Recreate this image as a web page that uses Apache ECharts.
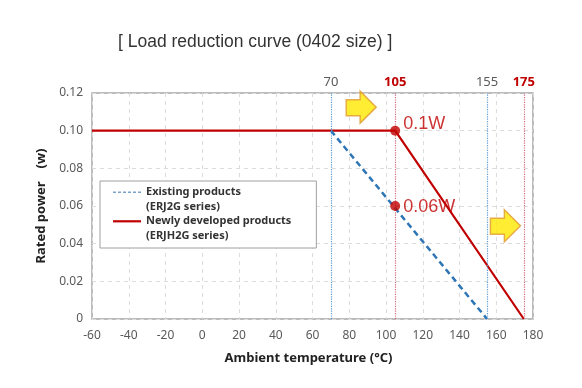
<!DOCTYPE html>
<html><head><meta charset="utf-8">
<script src="https://cdn.jsdelivr.net/npm/echarts@6/dist/echarts.min.js"></script>
<style>html,body{margin:0;padding:0;background:#fff}#c{width:582px;height:388px}</style>
</head><body><div id="c"></div>
<script>
// ---- data ----
const existingName = 'Existing products\n(ERJ2G series)';
const newName = 'Newly developed products\n(ERJH2G series)';
const existingLine = [[70, 0.10], [155, 0]];
const newLine = [[-60, 0.10], [105, 0.10], [175, 0]];
const keyPoints = [[105, 0.10, '0.1W'], [105, 0.06, '0.06W']];
const keyLabelShift = [-7, 1];
const refTemps = [70, 105, 155, 175];
const refIsNew = [false, true, false, true];
const arrows = [[86.5, 0.1125], [165, 0.0495]];

const RED = '#c00000';
const BLUE = '#2e75b6';
const arrowPath = 'path://M0,8 L13,8 L13,0 L28,15 L13,30 L13,23 L0,23 Z';
// legend icons: visible bar aligned with the first text line, invisible extent points keep box size
const iconDashed = 'path://M0,0M28,29' + [0, 5, 10, 15, 20, 25].map(x => `M${x},6.6h3v1.3h-3z`).join('');
const iconSolid = 'path://M0,0M28,29M0,6.2h28v2.2h-28z';

const chart = echarts.init(document.getElementById('c'));
chart.setOption({
  animation: false,
  title: {
    text: '[ Load reduction curve (0402 size) ]',
    left: 113, top: 28,
    textStyle: {fontFamily: 'Liberation Sans', fontSize: 17.5, fontWeight: 'normal', color: '#333'}
  },
  grid: {left: 92, right: 49, top: 93, bottom: 69, show: true, borderColor: '#a6a6a6', borderWidth: 1.5},
  legend: {
    data: [
      {name: existingName, icon: iconDashed, itemStyle: {color: '#7aa3cc'}},
      {name: newName, icon: iconSolid, itemStyle: {color: RED}}
    ],
    orient: 'vertical',
    left: 100, top: 181,
    padding: [4, 25, 5, 13],
    itemGap: 0,
    itemWidth: 28, itemHeight: 29,
    borderColor: '#a0a0a0', borderWidth: 1, backgroundColor: '#fff',
    itemStyle: {borderWidth: 0},
    textStyle: {fontFamily: 'Noto Sans', fontSize: 11, fontWeight: 'bold', color: '#333', lineHeight: 14.5}
  },
  xAxis: {
    type: 'value', min: -60, max: 180, interval: 20,
    name: 'Ambient temperature (°C)', nameLocation: 'middle', nameGap: 33,
    nameTextStyle: {fontFamily: 'Noto Sans', fontSize: 13, fontWeight: 'bold', color: '#222', padding: [0, 8, 0, 0]},
    axisLine: {show: false}, axisTick: {show: false},
    axisLabel: {fontFamily: 'Noto Sans', fontSize: 12, color: '#595959', margin: 11},
    splitLine: {show: true, lineStyle: {type: [4, 4], color: '#dcdcdc'}}
  },
  yAxis: {
    type: 'value', min: 0, max: 0.12, interval: 0.02,
    name: 'Rated power\u3000(w)', nameLocation: 'middle', nameGap: 42,
    nameTextStyle: {fontFamily: 'Noto Sans', fontSize: 13, fontWeight: 'bold', color: '#222'},
    axisLine: {show: false}, axisTick: {show: false},
    axisLabel: {fontFamily: 'Noto Sans', fontSize: 12, color: '#595959', margin: 9,
      formatter: v => v === 0 ? '0' : v.toFixed(2)},
    splitLine: {show: true, lineStyle: {type: [4, 4], color: '#dcdcdc'}}
  },
  series: [
    {
      name: 'refs', type: 'line', data: [], silent: true,
      markLine: {
        silent: true, symbol: 'none',
        data: refTemps.map((t, i) => ({
          xAxis: t,
          lineStyle: {type: 'dotted', width: 1.2, color: refIsNew[i] ? '#d46a7a' : '#5b9bd5'},
          label: {show: true, position: 'end', distance: 4, formatter: String(t),
            fontFamily: 'Noto Sans', fontSize: 13,
            fontWeight: refIsNew[i] ? 'bold' : 'normal',
            color: refIsNew[i] ? RED : '#595959'}
        }))
      }
    },
    {
      name: newName, type: 'line', data: newLine, symbol: 'none',
      lineStyle: {color: RED, width: 2.2}, itemStyle: {color: RED}, z: 3
    },
    {
      name: existingName, type: 'line', data: existingLine, symbol: 'none',
      lineStyle: {color: BLUE, width: 2.5, type: [6, 4]}, itemStyle: {color: BLUE}, z: 4
    },
    {
      name: 'points', type: 'scatter', z: 5, symbolSize: 10,
      data: keyPoints.map((p, i) => ({value: p, label: {offset: [0, keyLabelShift[i]]}})),
      itemStyle: {color: RED},
      label: {show: true, position: 'right', distance: 3, formatter: p => p.data.value[2],
        fontFamily: 'Liberation Sans', fontSize: 18, color: RED}
    },
    {
      name: 'arrows', type: 'scatter', data: arrows, symbol: arrowPath, symbolSize: [30, 32], z: 6,
      itemStyle: {color: '#ffe800', borderColor: '#e09a30', borderWidth: 1.5}
    }
  ]
});
</script></body></html>
